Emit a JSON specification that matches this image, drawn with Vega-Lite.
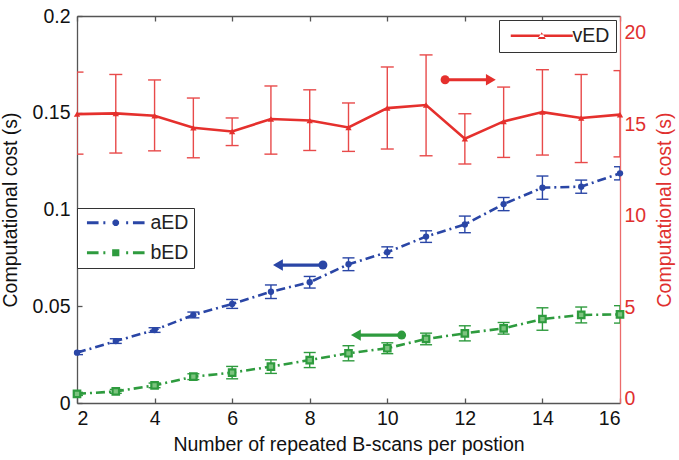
{
  "$schema": "https://vega.github.io/schema/vega-lite/v6.json",
  "width": 543,
  "height": 387,
  "autosize": {"type": "none"},
  "padding": {"left": 77, "top": 16, "right": 59, "bottom": 57},
  "background": "white",
  "config": {
    "font": "Liberation Sans",
    "view": {"stroke": null},
    "axis": {"grid": false, "labelFontSize": 19.5, "titleFontSize": 19.5, "titleFontWeight": "normal", "labelFont": "Liberation Sans", "titleFont": "Liberation Sans", "domainColor": "#555", "tickColor": "#555", "labelColor": "#111", "titleColor": "#111", "domainWidth": 1.3, "tickWidth": 1.3}
  },
  "datasets": {
    "ed": [
      {"n": 2, "series": "aED", "value": 0.026, "lo": 0.025, "hi": 0.027},
      {"n": 3, "series": "aED", "value": 0.032, "lo": 0.0308, "hi": 0.0332},
      {"n": 4, "series": "aED", "value": 0.0377, "lo": 0.0365, "hi": 0.0389},
      {"n": 5, "series": "aED", "value": 0.0455, "lo": 0.044, "hi": 0.047},
      {"n": 6, "series": "aED", "value": 0.0512, "lo": 0.0489, "hi": 0.0535},
      {"n": 7, "series": "aED", "value": 0.0575, "lo": 0.054, "hi": 0.061},
      {"n": 8, "series": "aED", "value": 0.0624, "lo": 0.0594, "hi": 0.0654},
      {"n": 9, "series": "aED", "value": 0.0717, "lo": 0.0684, "hi": 0.075},
      {"n": 10, "series": "aED", "value": 0.0779, "lo": 0.0751, "hi": 0.0807},
      {"n": 11, "series": "aED", "value": 0.086, "lo": 0.083, "hi": 0.089},
      {"n": 12, "series": "aED", "value": 0.0923, "lo": 0.088, "hi": 0.0966},
      {"n": 13, "series": "aED", "value": 0.1028, "lo": 0.0994, "hi": 0.1062},
      {"n": 14, "series": "aED", "value": 0.1113, "lo": 0.1053, "hi": 0.1173},
      {"n": 15, "series": "aED", "value": 0.1118, "lo": 0.1084, "hi": 0.1152},
      {"n": 16, "series": "aED", "value": 0.1187, "lo": 0.1153, "hi": 0.1221},
      {"n": 2, "series": "bED", "value": 0.0047, "lo": 0.0039, "hi": 0.0055},
      {"n": 3, "series": "bED", "value": 0.006, "lo": 0.005, "hi": 0.007},
      {"n": 4, "series": "bED", "value": 0.0091, "lo": 0.0079, "hi": 0.0103},
      {"n": 5, "series": "bED", "value": 0.0136, "lo": 0.0121, "hi": 0.0151},
      {"n": 6, "series": "bED", "value": 0.0157, "lo": 0.0125, "hi": 0.0189},
      {"n": 7, "series": "bED", "value": 0.0188, "lo": 0.0153, "hi": 0.0223},
      {"n": 8, "series": "bED", "value": 0.0222, "lo": 0.0183, "hi": 0.0261},
      {"n": 9, "series": "bED", "value": 0.0257, "lo": 0.0218, "hi": 0.0296},
      {"n": 10, "series": "bED", "value": 0.0283, "lo": 0.0255, "hi": 0.0311},
      {"n": 11, "series": "bED", "value": 0.0331, "lo": 0.0301, "hi": 0.0361},
      {"n": 12, "series": "bED", "value": 0.036, "lo": 0.0321, "hi": 0.0399},
      {"n": 13, "series": "bED", "value": 0.0386, "lo": 0.0356, "hi": 0.0416},
      {"n": 14, "series": "bED", "value": 0.0434, "lo": 0.0376, "hi": 0.0492},
      {"n": 15, "series": "bED", "value": 0.0455, "lo": 0.0414, "hi": 0.0496},
      {"n": 16, "series": "bED", "value": 0.0458, "lo": 0.0413, "hi": 0.0503}
    ],
    "ved": [
      {"n": 2, "series": "vED", "value": 15.56, "lo": 13.37, "hi": 17.86},
      {"n": 3, "series": "vED", "value": 15.6, "lo": 13.43, "hi": 17.73},
      {"n": 4, "series": "vED", "value": 15.47, "lo": 13.55, "hi": 17.43},
      {"n": 5, "series": "vED", "value": 14.81, "lo": 13.17, "hi": 16.44},
      {"n": 6, "series": "vED", "value": 14.61, "lo": 13.84, "hi": 15.35},
      {"n": 7, "series": "vED", "value": 15.29, "lo": 13.37, "hi": 17.1},
      {"n": 8, "series": "vED", "value": 15.21, "lo": 13.57, "hi": 16.89},
      {"n": 9, "series": "vED", "value": 14.83, "lo": 13.52, "hi": 16.17},
      {"n": 10, "series": "vED", "value": 15.89, "lo": 13.65, "hi": 18.14},
      {"n": 11, "series": "vED", "value": 16.06, "lo": 13.28, "hi": 18.8},
      {"n": 12, "series": "vED", "value": 14.21, "lo": 12.83, "hi": 15.58},
      {"n": 13, "series": "vED", "value": 15.16, "lo": 13.19, "hi": 17.04},
      {"n": 14, "series": "vED", "value": 15.67, "lo": 13.32, "hi": 17.99},
      {"n": 15, "series": "vED", "value": 15.35, "lo": 12.91, "hi": 17.73},
      {"n": 16, "series": "vED", "value": 15.53, "lo": 13.22, "hi": 17.94}
    ],
    "arrowsLeft": [
      {"series": "aED", "tail": 8.34, "head": 7.18, "y": 0.0713},
      {"series": "bED", "tail": 10.37, "head": 9.19, "y": 0.0351}
    ],
    "arrowsRight": [
      {"series": "vED", "tail": 11.49, "head": 12.67, "y": 17.44}
    ]
  },
  "layer": [
    {
      "data": {"name": "ed"},
      "encoding": {
        "x": {"field": "n", "type": "quantitative", "scale": {"domain": [2, 16], "nice": false},
          "axis": {"orient": "bottom", "values": [2, 4, 6, 8, 10, 12, 14, 16], "ticks": false, "labelPadding": 6, "title": "Number of repeated B-scans per postion", "titlePadding": 8}}
      },
      "layer": [
        {
          "mark": {"type": "rule", "clip": true, "strokeWidth": 1.4},
          "encoding": {
            "y": {"field": "lo", "type": "quantitative", "title": "Computational cost (s)", "scale": {"domain": [0, 0.2], "nice": false},
              "axis": {"orient": "left", "values": [0, 0.05, 0.1, 0.15, 0.2], "format": "~g", "ticks": false, "labelPadding": 7, "titlePadding": 12}},
            "y2": {"field": "hi"},
            "color": {"field": "series", "type": "nominal", "scale": {"domain": ["aED", "bED"], "range": ["#2a46a6", "#2e9b3e"]},
              "legend": {"orient": "none", "legendX": 0, "legendY": 192, "title": null, "padding": 5, "strokeColor": "#333", "fillColor": "white", "cornerRadius": 0, "symbolSize": 64, "symbolStrokeWidth": 0, "symbolOffset": 24, "labelOffset": 25, "labelFontSize": 19.5, "labelColor": "#222", "rowPadding": 9, "labelFont": "Liberation Sans",
                "encoding": {"symbols": {
                  "shape": {"condition": {"test": "datum.value === 'aED'", "value": "M-7.2,-0.35H-4.3V0.35H-7.2Z M-3.1,-0.35H-2.6V0.35H-3.1Z M2.6,-0.35H3.1V0.35H2.6Z M4.3,-0.35H7.2V0.35H4.3Z M0.83,0.34L0.34,0.83L-0.34,0.83L-0.83,0.34L-0.83,-0.34L-0.34,-0.83L0.34,-0.83L0.83,-0.34Z"}, "value": "M-7.2,-0.35H-4.3V0.35H-7.2Z M-3.1,-0.35H-2.6V0.35H-3.1Z M2.6,-0.35H3.1V0.35H2.6Z M4.3,-0.35H7.2V0.35H4.3Z M-0.9,-0.9H0.9V0.9H-0.9Z"},
                  "fill": {"condition": {"test": "datum.value === 'aED'", "value": "#2a46a6"}, "value": "#2e9b3e"},
                  "size": {"value": 64},
                  "fillOpacity": {"value": 1},
                  "strokeWidth": {"value": 0},
                  "opacity": {"value": 1}
                }}}}
          }
        },
        {
          "mark": {"type": "tick", "orient": "horizontal", "size": 12, "thickness": 1.4, "clip": true, "opacity": 1},
          "encoding": {
            "y": {"field": "lo", "type": "quantitative", "title": "Computational cost (s)"},
            "color": {"field": "series", "type": "nominal"}
          }
        },
        {
          "mark": {"type": "tick", "orient": "horizontal", "size": 12, "thickness": 1.4, "clip": true, "opacity": 1},
          "encoding": {
            "y": {"field": "hi", "type": "quantitative", "title": "Computational cost (s)"},
            "color": {"field": "series", "type": "nominal"}
          }
        },
        {
          "mark": {"type": "line", "strokeWidth": 2.6, "strokeDash": [9, 4, 2, 4], "clip": true},
          "encoding": {
            "y": {"field": "value", "type": "quantitative", "title": "Computational cost (s)"},
            "color": {"field": "series", "type": "nominal"}
          }
        },
        {
          "transform": [{"filter": "datum.series === 'aED'"}],
          "mark": {"type": "point", "shape": "circle", "filled": true, "size": 40, "opacity": 1, "color": "#2a46a6"},
          "encoding": {"y": {"field": "value", "type": "quantitative", "title": "Computational cost (s)"}}
        },
        {
          "transform": [{"filter": "datum.series === 'bED'"}],
          "mark": {"type": "point", "shape": "square", "filled": false, "size": 42, "strokeWidth": 2.2, "opacity": 1, "color": "#2e9b3e", "fill": "#7cc47f", "fillOpacity": 1},
          "encoding": {"y": {"field": "value", "type": "quantitative", "title": "Computational cost (s)"}}
        },
        {
          "data": {"name": "arrowsLeft"},
          "mark": {"type": "rule", "strokeWidth": 3.2},
          "encoding": {
            "x": {"field": "tail", "type": "quantitative"},
            "x2": {"field": "head"},
            "y": {"field": "y", "type": "quantitative", "title": "Computational cost (s)"},
            "color": {"field": "series", "type": "nominal"}
          }
        },
        {
          "data": {"name": "arrowsLeft"},
          "mark": {"type": "point", "shape": "circle", "filled": true, "size": 80, "opacity": 1},
          "encoding": {
            "x": {"field": "tail", "type": "quantitative"},
            "y": {"field": "y", "type": "quantitative", "title": "Computational cost (s)"},
            "color": {"field": "series", "type": "nominal"}
          }
        },
        {
          "data": {"name": "arrowsLeft"},
          "mark": {"type": "point", "shape": "triangle-left", "filled": true, "size": 130, "opacity": 1},
          "encoding": {
            "x": {"field": "head", "type": "quantitative"},
            "y": {"field": "y", "type": "quantitative", "title": "Computational cost (s)"},
            "color": {"field": "series", "type": "nominal"}
          }
        }
      ]
    },
    {
      "data": {"name": "ved"},
      "encoding": {
        "x": {"field": "n", "type": "quantitative",
          "axis": {"orient": "top", "values": [2, 4, 6, 8, 10, 12, 14, 16], "labels": false, "tickSize": -5, "title": null}}
      },
      "layer": [
        {
          "mark": {"type": "rule", "clip": true, "strokeWidth": 1.4, "color": "#e84a4a"},
          "encoding": {
            "y": {"field": "lo", "type": "quantitative", "title": "Computational cost (s)", "scale": {"domain": [-0.25, 20.93], "nice": false},
              "axis": {"orient": "right", "values": [0, 5, 10, 15, 20], "ticks": false, "labelPadding": 4, "titlePadding": 10, "titleAngle": -90, "titleBaseline": "top", "domainColor": "#ec6b6b", "labelColor": "#e0302f", "titleColor": "#e0302f"}},
            "y2": {"field": "hi"}
          }
        },
        {
          "mark": {"type": "tick", "orient": "horizontal", "size": 13, "thickness": 1.4, "clip": true, "opacity": 1, "color": "#e84a4a"},
          "encoding": {"y": {"field": "lo", "type": "quantitative", "title": "Computational cost (s)"}}
        },
        {
          "mark": {"type": "tick", "orient": "horizontal", "size": 13, "thickness": 1.4, "clip": true, "opacity": 1, "color": "#e84a4a"},
          "encoding": {"y": {"field": "hi", "type": "quantitative", "title": "Computational cost (s)"}}
        },
        {
          "mark": {"type": "line", "strokeWidth": 2.6, "color": "#e5302d", "clip": true},
          "encoding": {"y": {"field": "value", "type": "quantitative", "title": "Computational cost (s)"}}
        },
        {
          "mark": {"type": "point", "shape": "triangle-up", "filled": true, "size": 40, "opacity": 1, "color": "#e5302d"},
          "encoding": {"y": {"field": "value", "type": "quantitative", "title": "Computational cost (s)"}}
        },
        {
          "data": {"name": "arrowsRight"},
          "mark": {"type": "rule", "strokeWidth": 3.2, "color": "#e5302d"},
          "encoding": {
            "x": {"field": "tail", "type": "quantitative"},
            "x2": {"field": "head"},
            "y": {"field": "y", "type": "quantitative", "title": "Computational cost (s)"}
          }
        },
        {
          "data": {"name": "arrowsRight"},
          "mark": {"type": "point", "shape": "circle", "filled": true, "size": 80, "opacity": 1, "color": "#e5302d"},
          "encoding": {
            "x": {"field": "tail", "type": "quantitative"},
            "y": {"field": "y", "type": "quantitative", "title": "Computational cost (s)"}
          }
        },
        {
          "data": {"name": "arrowsRight"},
          "mark": {"type": "point", "shape": "triangle-right", "filled": true, "size": 130, "opacity": 1, "color": "#e5302d"},
          "encoding": {
            "x": {"field": "head", "type": "quantitative"},
            "y": {"field": "y", "type": "quantitative", "title": "Computational cost (s)"}
          }
        },
        {
          "transform": [{"filter": "false"}],
          "mark": {"type": "point", "filled": true, "opacity": 1},
          "encoding": {
            "y": {"field": "value", "type": "quantitative", "title": "Computational cost (s)"},
            "fill": {"field": "series", "type": "nominal", "scale": {"domain": ["vED"], "range": ["#e5302d"]},
              "legend": {"orient": "none", "legendX": 422, "legendY": 4, "title": null, "padding": 6, "strokeColor": "#333", "fillColor": "white", "cornerRadius": 0, "symbolSize": 64, "symbolStrokeWidth": 0, "symbolOffset": 27, "labelOffset": 21, "labelFontSize": 19.5, "labelColor": "#222", "labelFont": "Liberation Sans",
                "symbolType": "M-7.75,-0.32H7.75V0.32H-7.75Z M-1,0.8L1,0.8L0,-0.9Z",
                "encoding": {"symbols": {"size": {"value": 64}, "strokeWidth": {"value": 0}, "opacity": {"value": 1}}}}}
          }
        }
      ]
    },
    {
      "data": {"name": "ed"},
      "mark": {"type": "point", "opacity": 0},
      "encoding": {
        "x": {"field": "n", "type": "quantitative",
          "axis": {"orient": "bottom", "values": [2, 4, 6, 8, 10, 12, 14, 16], "labels": false, "domain": false, "tickSize": 5, "offset": -5, "title": null}},
        "y": {"field": "value", "type": "quantitative", "scale": {"domain": [0, 0.2], "nice": false},
          "axis": {"orient": "left", "values": [0, 0.05, 0.1, 0.15, 0.2], "labels": false, "domain": false, "tickSize": 5, "offset": -5, "title": null}}
      }
    }
  ],
  "resolve": {"scale": {"y": "independent"}, "axis": {"x": "independent", "y": "independent"}}
}
